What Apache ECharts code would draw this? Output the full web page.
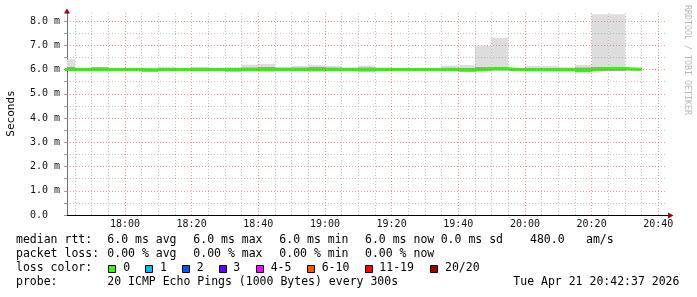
<!DOCTYPE html>
<html><head><meta charset="utf-8">
<script src="https://cdn.jsdelivr.net/npm/echarts@6/dist/echarts.min.js"></script>
<style>html,body{margin:0;padding:0;background:#fff}#c{width:697px;height:297px}</style>
</head><body><div id="c"></div>
<script>
// ---- data ----
const times = ['17:40','17:45','17:50','17:55','18:00','18:05','18:10','18:15','18:20','18:25','18:30','18:35',
  '18:40','18:45','18:50','18:55','19:00','19:05','19:10','19:15','19:20','19:25','19:30','19:35',
  '19:40','19:45','19:50','19:55','20:00','20:05','20:10','20:15','20:20','20:25','20:30'];
const lastEnd = '20:35';
const smokeMin = [6.00,5.97,5.88,5.97,5.97,5.90,5.97,5.97,5.97,5.97,5.90,5.92,
  5.90,5.93,5.97,5.90,5.97,5.97,5.88,5.97,5.98,5.98,5.98,5.96,
  5.93,5.95,5.97,5.98,5.97,5.97,5.97,5.83,5.97,5.97,5.97];
const smokeMax = [6.42,6.04,6.10,6.03,6.03,6.02,6.12,6.05,6.10,6.08,6.10,6.20,
  6.23,6.11,6.14,6.19,6.14,6.10,6.16,6.10,6.05,6.03,6.06,6.16,
  6.18,6.97,7.31,6.05,6.15,6.15,6.10,6.19,8.28,8.28,6.08];
const darkLo = [5.98,5.98,5.95,5.96,5.96,5.91,5.96,5.96,5.96,5.96,5.92,5.93,
  5.93,5.95,5.96,5.93,5.96,5.96,5.92,5.96,5.97,5.97,5.97,5.95,
  5.91,5.95,5.96,5.94,5.94,5.94,5.94,5.90,5.94,5.94,5.96];
const darkHi = [6.10,6.03,6.09,6.04,6.04,6.02,6.06,6.04,6.07,6.06,6.06,6.08,
  6.10,6.07,6.08,6.10,6.08,6.06,6.08,6.06,6.04,6.03,6.04,6.07,
  6.06,6.10,6.10,6.04,6.06,6.06,6.05,6.08,6.10,6.10,6.06];
const median = [6.00,6.00,6.00,6.00,6.00,5.99,6.00,6.00,6.00,6.00,6.00,6.00,
  6.00,6.00,6.00,6.00,6.00,6.00,6.00,6.00,6.00,6.00,6.00,6.00,
  5.97,6.03,6.03,5.99,5.99,5.99,5.99,5.99,6.04,6.04,6.00];
const xTickLabels = ['18:00','18:20','18:40','19:00','19:20','19:40','20:00','20:20','20:40'];
const xMinorTimes = ['17:45','17:50','17:55','18:05','18:10','18:15','18:25','18:30','18:35','18:45','18:50','18:55',
  '19:05','19:10','19:15','19:25','19:30','19:35','19:45','19:50','19:55','20:05','20:10','20:15','20:25','20:30','20:35'];
const yTickValues = [0,1,2,3,4,5,6,7,8];
const yMinorValues = [0.5,1.5,2.5,3.5,4.5,5.5,6.5,7.5];
const rttStats = ['6.0 ms avg','6.0 ms max','6.0 ms min','6.0 ms now','0.0 ms sd','480.0','am/s'];
const lossStats = ['0.00 % avg','0.00 % max','0.00 % min','0.00 % now'];
const lossLabels = ['0','1','2','3','4-5','6-10','11-19','20/20'];
const lossColors = ['#26ff00','#00b8ff','#0059ff','#5e00ff','#ff00ff','#ff5500','#ff0000','#a10000'];
const probeText = '20 ICMP Echo Pings (1000 Bytes) every 300s';
const stampText = 'Tue Apr 21 20:42:37 2026';

// ---- helpers ----
function tm(s){const p=s.split(':').map(Number);return p[0]*60+p[1];}
function fmt(v){const h=Math.floor(v/60), m=Math.round(v-h*60);return String(h).padStart(2,'0')+':'+String(m).padStart(2,'0');}
const xMin = tm('17:42') + 37/60, xMax = xMin + 180;
const MONO = '"DejaVu Sans Mono", monospace';

const ends = times.slice(1).concat([lastEnd]);
const lightData = times.map((t,i)=>[tm(t), tm(ends[i]), smokeMin[i], smokeMax[i]]);
const darkData = times.map((t,i)=>[tm(t), tm(ends[i]), darkLo[i], darkHi[i]]);
const medData = times.map((t,i)=>[tm(t), median[i]]).concat([[tm(lastEnd), median[median.length-1]]]);

function bandRenderer(color){
  return function(params, api){
    const p0 = api.coord([api.value(0), api.value(3)]);
    const p1 = api.coord([api.value(1), api.value(2)]);
    const cs = params.coordSys;
    const shape = echarts.graphic.clipRectByRect(
      {x:p0[0], y:p0[1], width:p1[0]-p0[0], height:p1[1]-p0[1]},
      {x:cs.x, y:cs.y, width:cs.width, height:cs.height});
    return shape && {type:'rect', shape:shape, style:{fill:color}};
  };
}

const majorStyle = {color:'rgba(225,70,70,0.55)', width:1, type:[1,2]};
const minorStyle = {color:'rgba(150,150,150,0.5)', width:1, type:[1,2]};
const gridLines = []
  .concat(xMinorTimes.map(t=>({xAxis:tm(t), lineStyle:minorStyle})))
  .concat(yMinorValues.map(v=>({yAxis:v, lineStyle:minorStyle})))
  .concat(xTickLabels.map(t=>({xAxis:tm(t), lineStyle:majorStyle})))
  .concat(yTickValues.filter(v=>v>0).map(v=>({yAxis:v, lineStyle:majorStyle})));

// ---- legend graphics ----
const g = [];
function txt(x,y,s,extra){g.push(Object.assign({type:'text', x:x, y:y, silent:true,
  style:{text:s, font:'11.5px '+MONO, fill:'#000', textAlign:'left', textVerticalAlign:'middle'}}, extra||{}));}
const rows = [240.5, 254.5, 268.5, 282.5];
txt(16, rows[0], 'median rtt:');
[107.3,193.3,279.3,365,440.7,530,586].forEach((x,i)=>txt(x, rows[0], rttStats[i]));
txt(16, rows[1], 'packet loss:');
[107.3,193.3,279.3,365].forEach((x,i)=>txt(x, rows[1], lossStats[i]));
txt(16, rows[2], 'loss color:');
const boxX = [108.5,145.5,182.5,219.5,256.5,307.5,365.5,430.5];
const lblX = [123.3,160,196.7,233.3,270.7,321.7,379.3,445];
lossLabels.forEach((l,i)=>{
  g.push({type:'rect', silent:true, shape:{x:boxX[i], y:265.5, width:7, height:7}, style:{fill:lossColors[i], stroke:'#000', lineWidth:1}});
  txt(lblX[i], rows[2], l);
});
txt(16, rows[3], 'probe:');
txt(107.3, rows[3], probeText);
txt(513.3, rows[3], stampText);
// axis title
g.push({type:'text', x:11, y:113.5, rotation:Math.PI/2, silent:true,
  style:{text:'Seconds', font:'11px '+MONO, fill:'#000', textAlign:'center', textVerticalAlign:'middle'}});
// watermark
g.push({type:'text', x:687, y:60, rotation:-Math.PI/2, silent:true,
  style:{text:'RRDTOOL / TOBI OETIKER', font:'8.3px '+MONO, fill:'#b8b8b8', textAlign:'center', textVerticalAlign:'middle'}});
// axis arrows
g.push({type:'line', silent:true, shape:{x1:667, y1:215.5, x2:669, y2:215.5}, style:{stroke:'#000', lineWidth:1}});
g.push({type:'polygon', silent:true, shape:{points:[[668,212.5],[673.5,215.5],[668,218.5]]}, style:{fill:'#a00000'}, z:20});
g.push({type:'polygon', silent:true, shape:{points:[[64,13.5],[67,8.5],[70,13.5]]}, style:{fill:'#a00000'}, z:20});

const chart = echarts.init(document.getElementById('c'), null, {renderer:'canvas'});
chart.setOption({
  animation:false,
  backgroundColor:'#ffffff',
  grid:{left:67, top:13, width:600, height:202, containLabel:false},
  xAxis:{type:'value', min:xMin, max:xMax,
    axisLine:{show:true, lineStyle:{color:'#000', width:1}},
    axisTick:{show:false, customValues:xTickLabels.map(tm)},
    axisLabel:{customValues:xTickLabels.map(tm), formatter:v=>fmt(v), margin:4,
      fontFamily:MONO, fontSize:10, color:'#111', showMinLabel:true, showMaxLabel:true},
    splitLine:{show:false}},
  yAxis:{type:'value', min:0, max:8.33,
    axisLine:{show:true, lineStyle:{color:'#707070', width:1}},
    axisTick:{show:true, length:3, lineStyle:{color:'#a0a0a0'}, customValues:yTickValues.concat(yMinorValues)},
    axisLabel:{customValues:yTickValues, formatter:v=>v===0?'0.0':v.toFixed(1)+' m', margin:37, align:'left',
      fontFamily:MONO, fontSize:10, color:'#111'},
    splitLine:{show:false}},
  graphic:{elements:g},
  series:[
    {type:'custom', name:'smoke', data:lightData, encode:{x:[0,1], y:[2,3]}, renderItem:bandRenderer('#dddddd'), z:2, silent:true},
    {type:'custom', name:'smokeCore', data:darkData, encode:{x:[0,1], y:[2,3]}, renderItem:bandRenderer('#9a9a9a'), z:3, silent:true},
    {type:'line', name:'median', data:medData, step:'end', showSymbol:false, symbol:'none', clip:true, z:4, silent:true,
      lineStyle:{color:lossColors[0], width:3},
      markLine:{silent:true, symbol:['none','none'], label:{show:false}, z:6, animation:false, data:gridLines}}
  ]
});
</script>
</body></html>
